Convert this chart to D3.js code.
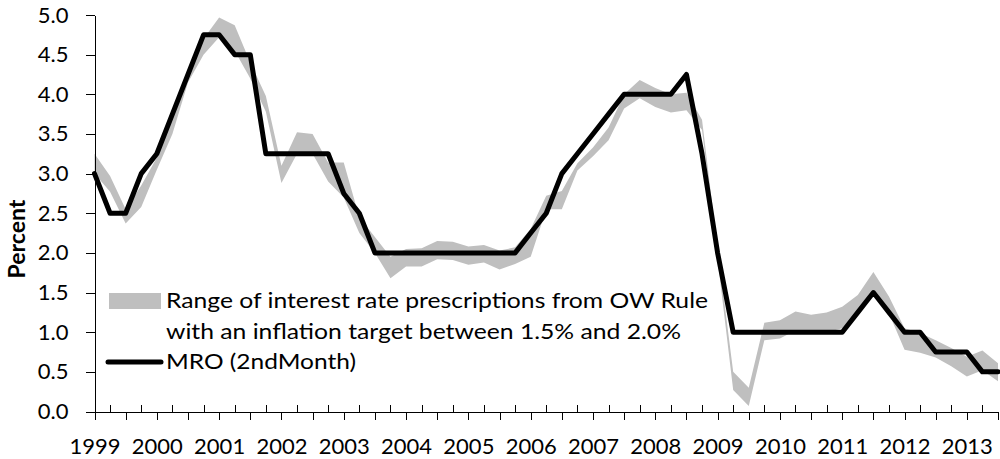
<!DOCTYPE html>
<html>
<head>
<meta charset="utf-8">
<script src="https://cdn.jsdelivr.net/npm/d3@7"></script>
<style>
    body { margin: 0; background: #fff; }
    svg text { font-family: Lato, "Open Sans", sans-serif; fill: #000; }
    .axis path, .axis line { stroke: #000; shape-rendering: crispEdges; }
</style>
</head>
<body>
<svg id="view" width="1000" height="459"></svg>
<script>
// quarterly, 1999Q1 .. 2013Q3
const quarters = [];
for (let yr = 1999; yr <= 2013; yr++) {
    for (let q = 1; q <= 4; q++) {
        if (yr === 2013 && q === 4) break;
        quarters.push(yr + 'Q' + q);
    }
}

const yTicks = [0, 0.5, 1, 1.5, 2, 2.5, 3, 3.5, 4, 4.5, 5];

// MRO, 2nd month of quarter
const mro = [
    3.0, 2.5, 2.5, 3.0,
    3.25, 3.75, 4.25, 4.75,
    4.75, 4.5, 4.5, 3.25,
    3.25, 3.25, 3.25, 3.25,
    2.75, 2.5, 2.0, 2.0,
    2.0, 2.0, 2.0, 2.0,
    2.0, 2.0, 2.0, 2.0,
    2.25, 2.5, 3.0, 3.25,
    3.5, 3.75, 4.0, 4.0,
    4.0, 4.0, 4.25, 3.25,
    2.0, 1.0, 1.0, 1.0,
    1.0, 1.0, 1.0, 1.0,
    1.0, 1.25, 1.5, 1.25,
    1.0, 1.0, 0.75, 0.75,
    0.75, 0.5, 0.5
];

// OW rule range, inflation target 1.5% .. 2.0%
const bandHigh = [
    3.25, 2.97, 2.55, 2.85,
    3.2, 3.7, 4.32, 4.7,
    4.97, 4.87, 4.4, 3.98,
    3.1, 3.52, 3.5, 3.14,
    3.14, 2.45, 2.2, 1.95,
    2.05, 2.06, 2.15, 2.14,
    2.08, 2.1, 2.03, 2.07,
    2.3, 2.72, 2.78, 3.13,
    3.33, 3.58, 4.0, 4.18,
    4.08, 4.0, 4.02, 3.68,
    2.05, 0.5, 0.3, 1.12,
    1.15, 1.26, 1.22, 1.25,
    1.32, 1.47, 1.76, 1.45,
    1.05, 0.99, 0.9, 0.8,
    0.69, 0.77, 0.61
];
const bandLow = [
    3.0, 2.77, 2.37, 2.58,
    3.05, 3.5, 4.15, 4.5,
    4.72, 4.55, 4.2, 3.78,
    2.88, 3.25, 3.25, 2.9,
    2.7, 2.25, 2.0, 1.68,
    1.83, 1.83, 1.92, 1.91,
    1.85, 1.88, 1.79, 1.86,
    1.95, 2.55, 2.55, 3.04,
    3.22, 3.42, 3.82, 3.95,
    3.84, 3.77, 3.8, 3.55,
    1.92, 0.27, 0.07, 0.9,
    0.92, 1.02, 1.0, 1.0,
    1.05, 1.24, 1.5, 1.24,
    0.78, 0.74, 0.68, 0.57,
    0.44, 0.52, 0.38
];

const legendLines = [
    'Range of interest rate prescriptions from OW Rule',
    'with an inflation target between 1.5% and 2.0%',
    'MRO (2ndMonth)'
];
const legendWidths = [542, 515, 190];

function draw() {
    var svg = d3.select('svg#view');

    var x = d3.scalePoint()
        .domain(quarters)
        .range([94.5, 998]);
    var y = d3.scaleLinear()
        .domain([0, 5])
        .range([411.5, 15]);

    // gray band
    svg.append('path')
        .datum(quarters)
        .attr('fill', '#bfbfbf')
        .attr('d', d3.area()
            .x(function(d) { return x(d); })
            .y0(function(d, i) { return y(bandLow[i]); })
            .y1(function(d, i) { return y(bandHigh[i]); }));

    // y axis
    svg.append('g')
        .attr('class', 'axis')
        .attr('transform', 'translate(94.5,0)')
        .call(d3.axisLeft(y)
            .tickValues(yTicks)
            .tickFormat(d3.format('.1f'))
            .tickSize(9)
            .tickSizeOuter(0)
            .tickPadding(17))
        .selectAll('text')
        .style('font-size', '22px');

    // x axis: minor ticks inward, major outward
    svg.append('g')
        .attr('class', 'axis')
        .attr('transform', 'translate(0,411.5)')
        .call(d3.axisBottom(x)
            .tickValues(quarters.filter(function(d, i) { return i % 2 === 1; }))
            .tickFormat('')
            .tickSize(-7)
            .tickSizeOuter(0))
        .select('.domain').remove();

    svg.append('g')
        .attr('class', 'axis')
        .attr('transform', 'translate(0,411.5)')
        .call(d3.axisBottom(x)
            .tickValues(quarters.filter(function(d, i) { return i % 2 === 0; }))
            .tickFormat(function(d) { return d.slice(5) === '1' ? d.slice(0, 4) : ''; })
            .tickSize(8)
            .tickSizeOuter(0)
            .tickPadding(19))
        .selectAll('text')
        .style('font-size', '22px');

    svg.selectAll('.axis text').attr('fill', '#000');

    // MRO line
    svg.append('path')
        .datum(quarters)
        .attr('fill', 'none')
        .attr('stroke', '#000')
        .attr('stroke-width', 5)
        .attr('stroke-linejoin', 'round')
        .attr('stroke-linecap', 'round')
        .attr('d', d3.line()
            .x(function(d) { return x(d); })
            .y(function(d, i) { return y(mro[i]); }));

    // y title
    svg.append('text')
        .attr('transform', 'translate(25,239) rotate(-90)')
        .attr('text-anchor', 'middle')
        .style('font-size', '23px')
        .style('font-weight', 'bold')
        .text('Percent');

    // legend
    var legend = svg.append('g').attr('class', 'legend');
    legend.append('rect')
        .attr('x', 109)
        .attr('y', 293)
        .attr('width', 52)
        .attr('height', 16)
        .attr('fill', '#bfbfbf');
    legend.append('line')
        .attr('x1', 108)
        .attr('x2', 161)
        .attr('y1', 362)
        .attr('y2', 362)
        .attr('stroke', '#000')
        .attr('stroke-width', 5)
        .attr('stroke-linecap', 'round');
    legend.selectAll('text.item')
        .data(legendLines)
        .enter()
        .append('text')
        .attr('class', 'item')
        .attr('x', 166)
        .attr('y', function(d, i) { return 308 + i * 30.5; })
        .attr('textLength', function(d, i) { return legendWidths[i]; })
        .attr('lengthAdjust', 'spacingAndGlyphs')
        .style('font-size', '22px')
        .text(function(d) { return d; });
}

draw();
</script>
</body>
</html>
